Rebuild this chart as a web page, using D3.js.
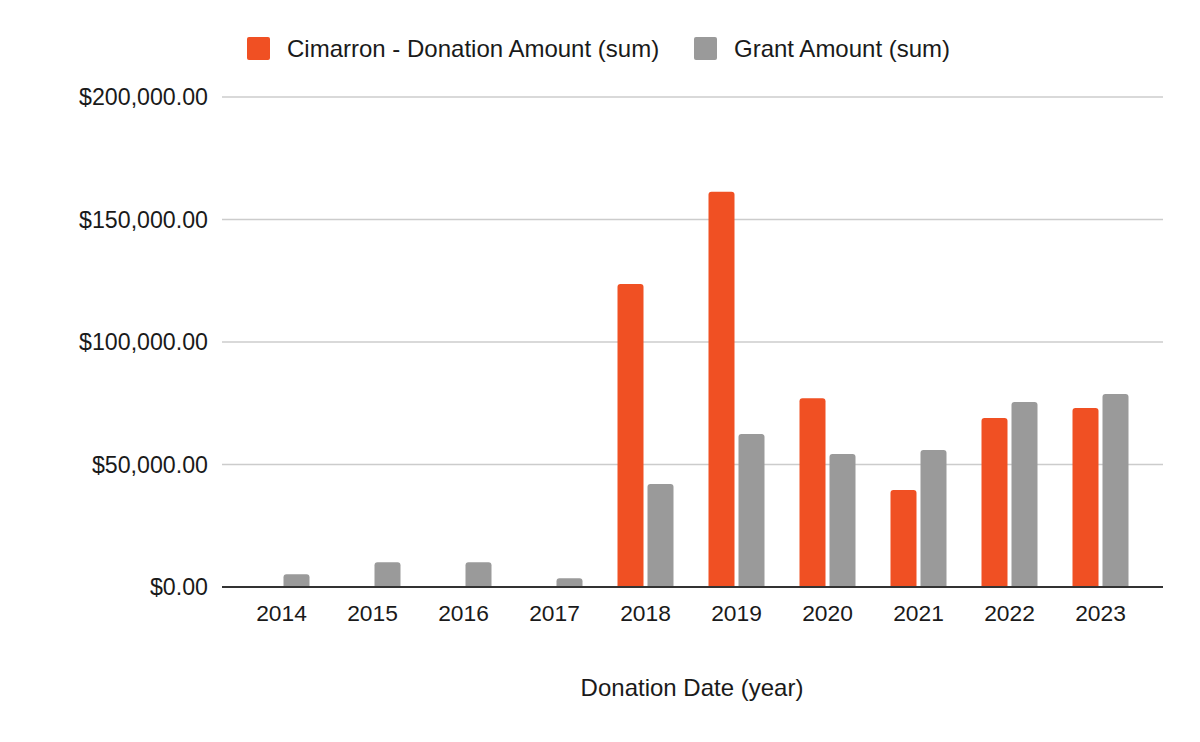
<!DOCTYPE html>
<html>
<head>
<meta charset="utf-8">
<script src="https://cdn.jsdelivr.net/npm/d3@7"></script>
<style>
  body { margin: 0; background: #fff; }
  text { font-family: "Liberation Sans", Arial, sans-serif; fill: #1a1a1a; }
</style>
</head>
<body>
<script>
// data
var years = ["2014", "2015", "2016", "2017", "2018", "2019", "2020", "2021", "2022", "2023"];
var donation = [0, 0, 0, 0, 123700, 161300, 77000, 39600, 69000, 73100];
var grant = [5200, 10100, 10100, 3600, 42000, 62400, 54300, 55900, 75500, 78800];
var seriesNames = ["Cimarron - Donation Amount (sum)", "Grant Amount (sum)"];
var colors = ["#f05023", "#9a9a9a"];
var yTicks = [0, 50000, 100000, 150000, 200000];

var width = 1200, height = 742;

var svg = d3.select("body").append("svg")
  .attr("width", width)
  .attr("height", height);

var x = d3.scaleBand()
  .domain(years)
  .range([236, 1146]);

var y = d3.scaleLinear()
  .domain([0, 200000])
  .range([587, 97]);

var fmt = d3.format("$,.2f");

// gridlines
svg.selectAll(".grid")
  .data(yTicks.filter(function (d) { return d > 0; }))
  .enter()
  .append("line")
  .attr("x1", 222).attr("x2", 1163)
  .attr("y1", function (d) { return y(d); })
  .attr("y2", function (d) { return y(d); })
  .attr("stroke", "#cccccc")
  .attr("stroke-width", 1.5);

// y labels
svg.selectAll(".ylab")
  .data(yTicks)
  .enter()
  .append("text")
  .attr("x", 208)
  .attr("y", function (d) { return y(d); })
  .attr("dy", "0.36em")
  .attr("text-anchor", "end")
  .style("font-size", "23.2px")
  .text(function (d) { return fmt(d); });

// bars with rounded tops
var barW = 26, gap = 4;
function barPath(x0, yTop, w) {
  var y0 = y(0);
  var h = y0 - yTop;
  var r = Math.min(3, h / 2, w / 2);
  return "M" + x0 + "," + y0 +
    "V" + (yTop + r) +
    "Q" + x0 + "," + yTop + " " + (x0 + r) + "," + yTop +
    "H" + (x0 + w - r) +
    "Q" + (x0 + w) + "," + yTop + " " + (x0 + w) + "," + (yTop + r) +
    "V" + y0 + "Z";
}

var allSeries = [donation, grant];
allSeries.forEach(function (vals, s) {
  svg.append("g").selectAll("path")
    .data(years.map(function (yr, i) { return { year: yr, v: vals[i] }; })
      .filter(function (d) { return d.v > 0; }))
    .enter()
    .append("path")
    .attr("d", function (d) {
      var c = x(d.year) + x.bandwidth() / 2;
      var x0 = s === 0 ? c - gap / 2 - barW : c + gap / 2;
      return barPath(x0, y(d.v), barW);
    })
    .attr("fill", colors[s]);
});

// baseline
svg.append("line")
  .attr("x1", 222).attr("x2", 1163)
  .attr("y1", y(0)).attr("y2", y(0))
  .attr("stroke", "#333")
  .attr("stroke-width", 2);

// x labels
svg.selectAll(".xlab")
  .data(years)
  .enter()
  .append("text")
  .attr("x", function (d) { return x(d) + x.bandwidth() / 2; })
  .attr("y", 621)
  .attr("text-anchor", "middle")
  .style("font-size", "22.8px")
  .text(function (d) { return d; });

// axis title
svg.append("text")
  .attr("x", 692)
  .attr("y", 696)
  .attr("text-anchor", "middle")
  .style("font-size", "24px")
  .text("Donation Date (year)");

// legend
var legendX = [247, 694];
seriesNames.forEach(function (name, i) {
  svg.append("rect")
    .attr("x", legendX[i]).attr("y", 37)
    .attr("width", 23).attr("height", 23)
    .attr("rx", 2)
    .attr("fill", colors[i]);
  svg.append("text")
    .attr("x", legendX[i] + 40)
    .attr("y", 57)
    .style("font-size", "24px")
    .text(name);
});
</script>
</body>
</html>
